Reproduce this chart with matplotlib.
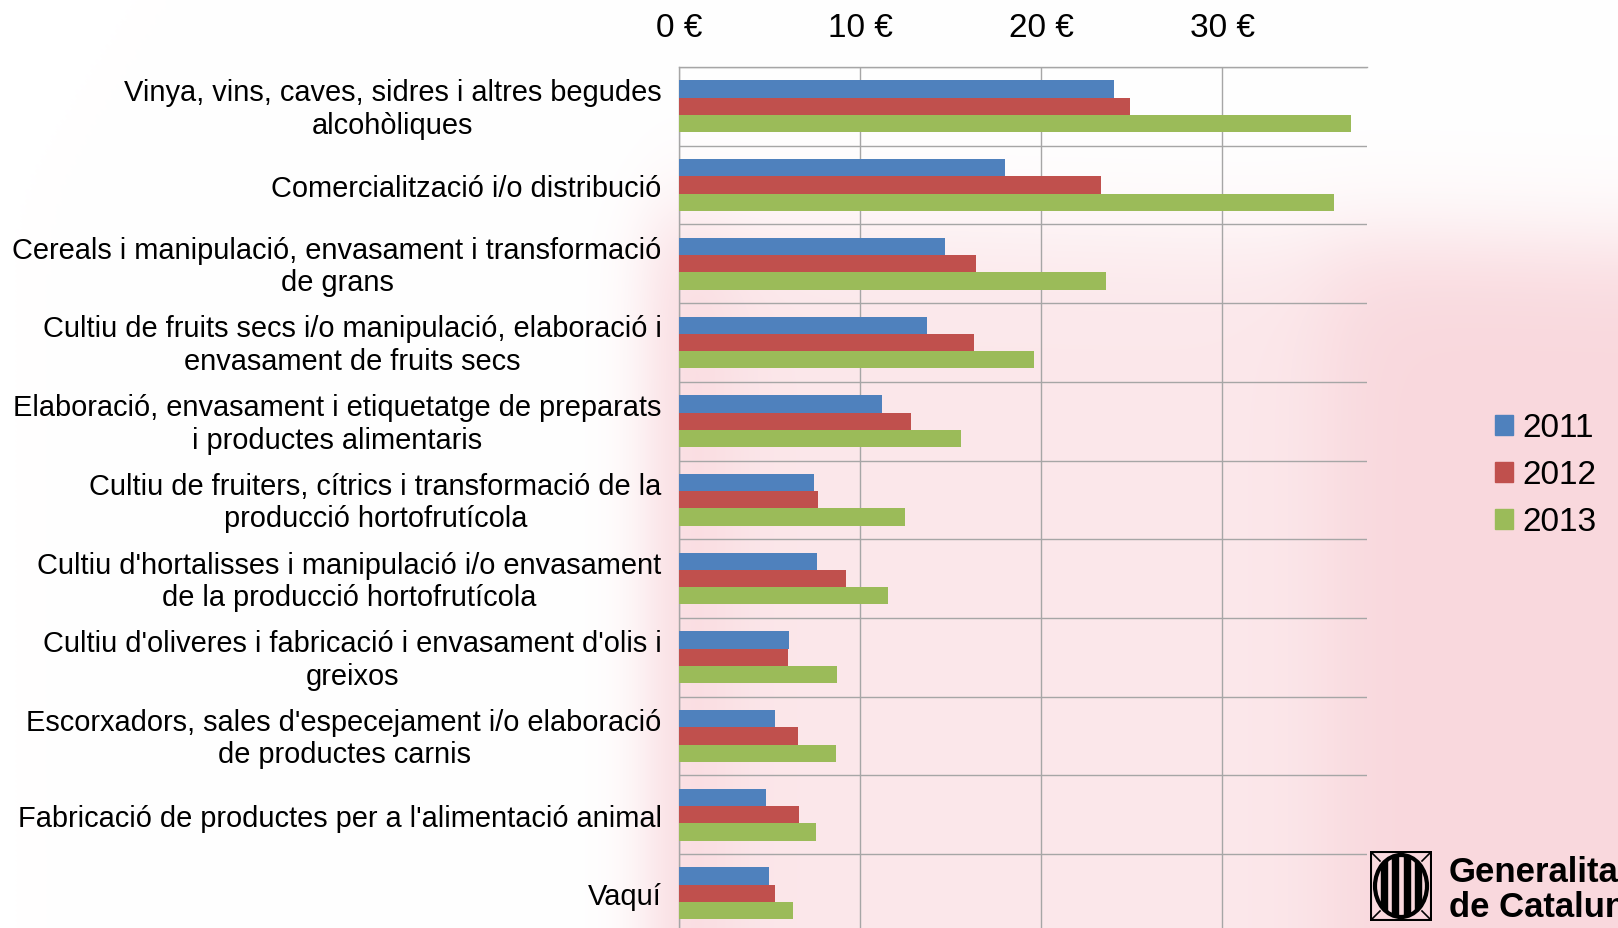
import numpy as np
import matplotlib
matplotlib.use("Agg")
import matplotlib.pyplot as plt
import matplotlib.transforms as mtransforms
from matplotlib.patches import Rectangle, Ellipse

# ---- Configuration ----
plt.rcParams.update({
    "font.family": ["Liberation Sans", "DejaVu Sans"],
})

W, H = 1618, 929

# ---- Data ----
categories = [
    "Vinya, vins, caves, sidres i altres begudes\nalcohòliques",
    "Comercialització i/o distribució",
    "Cereals i manipulació, envasament i transformació\nde grans",
    "Cultiu de fruits secs i/o manipulació, elaboració i\nenvasament de fruits secs",
    "Elaboració, envasament i etiquetatge de preparats\ni productes alimentaris",
    "Cultiu de fruiters, cítrics i transformació de la\nproducció hortofrutícola",
    "Cultiu d'hortalisses i manipulació i/o envasament\nde la producció hortofrutícola",
    "Cultiu d'oliveres i fabricació i envasament d'olis i\ngreixos",
    "Escorxadors, sales d'especejament i/o elaboració\nde productes carnis",
    "Fabricació de productes per a l'alimentació animal",
    "Vaquí",
]
years = ["2011", "2012", "2013"]
values_2011 = [24.0, 18.0, 14.7, 13.7, 11.2, 7.45, 7.6, 6.1, 5.3, 4.8, 4.95]
values_2012 = [24.9, 23.3, 16.4, 16.3, 12.8, 7.7, 9.2, 6.0, 6.6, 6.65, 5.3]
values_2013 = [37.1, 36.2, 23.6, 19.6, 15.6, 12.5, 11.55, 8.7, 8.65, 7.55, 6.3]
x_ticks = [0, 10, 20, 30]
x_tick_labels = ["0 €", "10 €", "20 €", "30 €"]

colors = ["#4F81BD", "#C0504D", "#9BBB59"]
grid_color = "#a6a6a6"

fig = plt.figure(figsize=(W / 100, H / 100), dpi=100)

# faded pink watermark behind the chart
bg = fig.add_axes([0, 0, 1, 1], zorder=-5)
yy, xx = np.mgrid[0:H:186j, 0:W:324j]
soft = lambda v: 1.0 / (1.0 + np.exp(-v))
pink = soft((xx - 650) / 18) * soft((yy - 215 - 0.03 * (xx - 650)) / 30)
pink *= 1 - 0.4 * soft((xx - 720) / 25) * soft((1330 - xx) / 25)
pink_rgb = np.array([249, 216, 221]) / 255.0
img = 1 - pink[..., None] * (1 - pink_rgb)
bg.imshow(img, extent=[0, W, H, 0], aspect="auto", interpolation="bilinear")
bg.axis("off")

# ---- Main chart ----
top_px, step_px = 68.0, 78.7
bottom_px = top_px + step_px * len(categories)
ax = fig.add_axes([679 / W, 1 - bottom_px / H, (1367 - 679) / W,
                   (bottom_px - top_px) / H])
ax.set_facecolor("none")

y = np.arange(len(categories))
bar_h = 0.219
for k, (vals, col) in enumerate(zip([values_2011, values_2012, values_2013], colors)):
    ax.barh(y + (k - 1) * bar_h, vals, height=bar_h, color=col,
            label=years[k], zorder=3)

ax.set_xlim(0, 38)
ax.set_ylim(len(categories) - 0.5, -0.5)

ax.xaxis.tick_top()
ax.set_xticks(x_ticks)
ax.set_xticklabels(x_tick_labels)
ax.tick_params(axis="x", length=0, pad=17, labelsize=24)

ax.set_yticks(y)
ax.set_yticklabels(categories)
ax.set_yticks(np.arange(-0.5, len(categories), 1), minor=True)
ax.tick_params(axis="y", which="both", length=0, pad=12.5, labelsize=20.9)
for lbl in ax.get_yticklabels():
    lbl.set_multialignment("center")
    if "\n" in lbl.get_text():
        # two-line labels sit a little above the category centre
        lbl.set_transform(mtransforms.offset_copy(lbl.get_transform(), fig=fig,
                                                  x=0, y=3, units="dots"))

ax.grid(axis="x", color=grid_color, lw=1, zorder=0)
ax.grid(axis="y", which="minor", color=grid_color, lw=1, zorder=0)
ax.set_axisbelow(True)
for side in ["right", "bottom"]:
    ax.spines[side].set_visible(False)
for side in ["left", "top"]:
    ax.spines[side].set_color(grid_color)
    ax.spines[side].set_linewidth(1)

# ---- Legend ----
handles = [Rectangle((0, 0), 1, 1, color=c) for c in colors]
fig.legend(handles, years, loc="center left",
           bbox_to_anchor=(1495 / W, 1 - 476 / H), frameon=False,
           fontsize=24, handlelength=0.55, handleheight=0.55,
           handletextpad=0.27, labelspacing=0.48, borderpad=0, borderaxespad=0)

# ---- Logo (bottom right, cut by the right edge as in the slide) ----
lg = fig.add_axes([1370 / W, 1 - 922 / H, 62 / W, 70 / H])
lg.set_xlim(0, 62)
lg.set_ylim(0, 70)
lg.axis("off")
lg.add_patch(Rectangle((1, 1), 60, 68, fill=False, ec="black", lw=1.5))
lg.add_patch(Ellipse((31, 35), 52, 62, fill=False, ec="black", lw=3))
slot = 52 / 9
for i in (1, 3, 5, 7):
    r = lg.add_patch(Rectangle((5 + i * slot, 0), slot, 70, color="black"))
    r.set_clip_path(Ellipse((31, 35), 52, 62, transform=lg.transData))
for cx, cy in [(1, 1), (61, 1), (1, 69), (61, 69)]:
    dx = 1 if cx < 31 else -1
    dy = 1 if cy < 35 else -1
    lg.plot([cx, cx + 9 * dx], [cy, cy + 9 * dy], color="black", lw=1.2)

fig.text(1449 / W, 1 - 873 / H, "Generalitat", fontsize=25,
         fontweight="bold", va="center", ha="left")
fig.text(1449 / W, 1 - 908 / H, "de Catalunya", fontsize=25,
         fontweight="bold", va="center", ha="left")

fig.savefig("out.png", dpi=100)
